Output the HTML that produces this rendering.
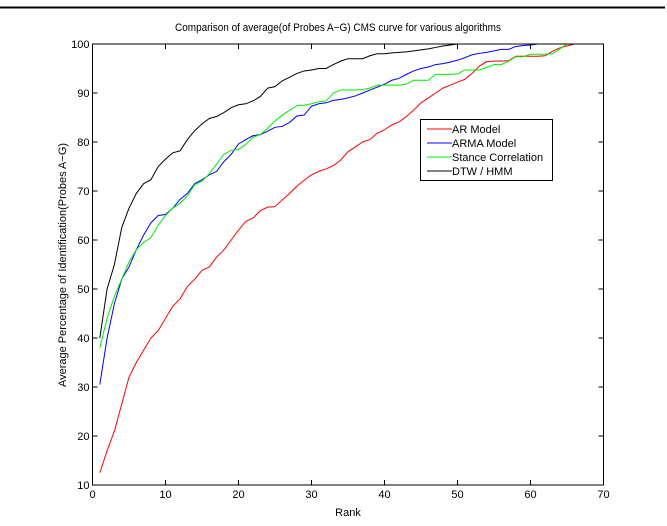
<!DOCTYPE html>
<html><head><meta charset="utf-8"><style>
body{margin:0;background:#fff;}
svg text{font-family:"Liberation Sans",sans-serif;fill:#000;}
</style></head><body>
<svg id="chart" width="667" height="521" viewBox="0 0 667 521" xmlns="http://www.w3.org/2000/svg">
<rect x="0" y="0" width="667" height="521" fill="#fff"/>
<line x1="0" y1="7.5" x2="665" y2="7.5" stroke="#000" stroke-width="2"/>
<text x="175" y="31" font-size="11" textLength="326" lengthAdjust="spacingAndGlyphs">Comparison of average(of Probes A−G) CMS curve for various algorithms</text>
<text x="348" y="516" font-size="11" text-anchor="middle">Rank</text>
<text transform="translate(66,265) rotate(-90)" font-size="11" text-anchor="middle">Average Percentage of Identification(Probes A−G)</text>
<g id="axes"></g>
<g id="series"></g>
<g>
<rect x="420.5" y="119.5" width="132" height="61" fill="#fff" stroke="#000" stroke-width="1"/>
<line x1="427" y1="129" x2="452" y2="129" stroke="#ff0000"/><text x="452" y="133" font-size="11">AR Model</text>
<line x1="427" y1="143" x2="452" y2="143" stroke="#0000ff"/><text x="452" y="147" font-size="11">ARMA Model</text>
<line x1="427" y1="157" x2="452" y2="157" stroke="#00ee00"/><text x="452" y="161" font-size="11">Stance Correlation</text>
<line x1="427" y1="171" x2="452" y2="171" stroke="#000"/><text x="452" y="175" font-size="11">DTW / HMM</text>
</g>
</svg>
<script>
const xTicks=[0,10,20,30,40,50,60,70];
const yTicks=[10,20,30,40,50,60,70,80,90,100];
const arModel=[12.5,17,21,26.5,32,35,37.5,40,41.5,44,46.5,48,50.5,52,53.8,54.5,56.5,58,60,62,63.8,64.5,66,66.7,66.8,68.2,69.5,71,72.2,73.3,74,74.5,75.2,76.3,78,79,80,80.5,81.8,82.5,83.5,84.1,85.2,86.5,88,89,90,91,91.6,92.2,92.8,94,95.5,96.4,96.5,96.5,96.6,97.5,97.5,97.5,97.5,97.6,98.5,99.2,99.6,100,100,100,100,100];
const armaModel=[30.5,40,47,52,54.5,58,61,63.5,65,65.2,66.5,68.3,69.5,71.5,72.3,73.3,74,76,77.5,79.6,80.5,81.3,81.5,82.2,83,83.2,84,85.3,85.5,87.3,87.8,88,88.5,88.7,89,89.4,90,90.6,91.2,91.8,92.6,93,93.8,94.5,95,95.3,95.8,96,96.3,96.7,97.2,97.8,98.1,98.3,98.6,98.9,98.9,99.5,99.7,99.8,100,100,100,100,100,100,100,100,100,100];
const stanceCorr=[38,44,48.5,52,55.5,58,59.5,60.5,63,65,66.5,67.5,69,71.3,72,73.5,75.5,77.5,78.3,78.5,79.5,81,81.5,82.8,84.3,85.5,86.5,87.4,87.5,87.8,88.2,88.4,90,90.6,90.6,90.6,90.7,91,91.6,91.6,91.6,91.6,91.8,92.6,92.6,92.6,93.8,93.8,93.8,93.9,94.7,94.7,94.7,95.2,95.8,95.8,96.5,97.4,97.4,97.9,97.9,97.9,98,99,100,100,100,100,100,100];
const dtwHmm=[40,50,55,62.5,66.5,69.5,71.5,72.3,75,76.5,77.8,78.2,80.5,82.3,83.7,84.8,85.2,86,87,87.6,87.8,88.4,89.3,91,91.3,92.5,93.2,94,94.5,94.7,95,95,95.8,96.5,97,97,97,97.6,98,98,98.2,98.3,98.4,98.6,98.8,99,99.3,99.6,99.8,100,100,100,100,100,100,100,100,100,100,100,100,100,100,100,100,100,100,100,100,100];
const L=92.5,R=603.5,T=44,B=485;
const xs=v=>L+(v/70)*(R-L);
const ys=v=>B-((v-10)/90)*(B-T);
const NS="http://www.w3.org/2000/svg";
function mk(tag,attrs,parent){const e=document.createElementNS(NS,tag);for(const k in attrs)e.setAttribute(k,attrs[k]);parent.appendChild(e);return e;}
const ax=document.getElementById('axes');
const frame=mk('rect',{x:L,y:T,width:R-L,height:B-T,fill:'none',stroke:'#000','stroke-width':1},ax);


xTicks.forEach(t=>{
  const x=xs(t);
  mk('line',{x1:x,y1:B,x2:x,y2:B-5,stroke:'#000'},ax);
  mk('line',{x1:x,y1:T,x2:x,y2:T+5,stroke:'#000'},ax);
  const tx=mk('text',{x:x,y:B+13,'font-size':11,'text-anchor':'middle'},ax);
  tx.textContent=t;
  
  
});
yTicks.forEach(t=>{
  const y=ys(t);
  mk('line',{x1:L,y1:y,x2:L+5,y2:y,stroke:'#000'},ax);
  mk('line',{x1:R,y1:y,x2:R-5,y2:y,stroke:'#000'},ax);
  const tx=mk('text',{x:L-3,y:y+4,'font-size':11,'text-anchor':'end'},ax);
  tx.textContent=t;
  
  
});
const sg=document.getElementById('series');
function draw(arr,color,name){
  const d=arr.map((v,i)=>(i?'L':'M')+xs(i+1).toFixed(2)+','+ys(v).toFixed(2)).join(' ');
  const p=mk('path',{d:d,fill:'none',stroke:color,'stroke-width':1},sg);
  
  
}
draw(arModel,'#ff0000','ar-model-line');
draw(armaModel,'#0000ff','arma-model-line');
draw(stanceCorr,'#00ee00','stance-correlation-line');
draw(dtwHmm,'#000000','dtw-hmm-line');
</script>
</body></html>
